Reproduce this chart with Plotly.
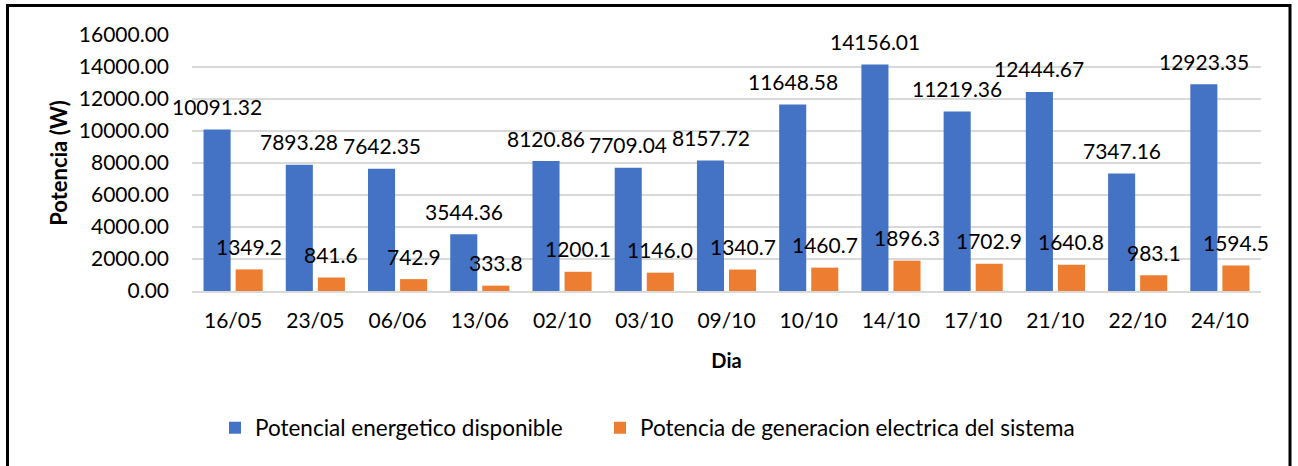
import plotly.graph_objects as go

dias = ["16/05", "23/05", "06/06", "13/06", "02/10", "03/10", "09/10", "10/10",
        "14/10", "17/10", "21/10", "22/10", "24/10"]
potencial = [10091.32, 7893.28, 7642.35, 3544.36, 8120.86, 7709.04, 8157.72,
             11648.58, 14156.01, 11219.36, 12444.67, 7347.16, 12923.35]
generacion = [1349.2, 841.6, 742.9, 333.8, 1200.1, 1146.0, 1340.7,
              1460.7, 1896.3, 1702.9, 1640.8, 983.1, 1594.5]
y_ticks = [0, 2000, 4000, 6000, 8000, 10000, 12000, 14000, 16000]

FONT = "Lato"
W, H = 1298, 466
L, R, T, B = 192, 37, 35, 175

fig = go.Figure()
fig.add_trace(go.Bar(x=dias, y=potencial, name="Potencial energetico disponible",
                     marker=dict(color="#4472C4", line=dict(width=0)), legend="legend"))
fig.add_trace(go.Bar(x=dias, y=generacion, name="Potencia de generacion electrica del sistema",
                     marker=dict(color="#ED7D31", line=dict(width=0)), legend="legend2"))

# data labels
for vals, fmt, off in [(potencial, "{:.2f}", -16), (generacion, "{:.1f}", 16)]:
    for d, v in zip(dias, vals):
        fig.add_annotation(x=d, y=v, text=fmt.format(v), showarrow=False,
                           xshift=off, yshift=23, yanchor="middle",
                           font=dict(family=FONT, size=21, color="#000000"))

pw = W - L - R
ph = H - T - B
fig.add_shape(type="rect", xref="paper", yref="paper",
              x0=(7.5 - L) / pw, x1=(1290 - L) / pw,
              y0=(H - B - 470) / ph, y1=(H - B - 5.5) / ph,
              line=dict(color="black", width=3), fillcolor="rgba(0,0,0,0)", layer="above")

leg_common = dict(orientation="h", xref="container", yref="container",
                  y=1 - 428 / H, xanchor="left", yanchor="middle",
                  font=dict(family=FONT, size=22.5, color="#000000"),
                  itemwidth=30, tracegroupgap=0)
fig.update_layout(
    width=W, height=H,
    margin=dict(l=L, r=R, t=T, b=B, autoexpand=False),
    paper_bgcolor="white", plot_bgcolor="white",
    barmode="group", bargap=0.22, bargroupgap=0.156,
    font=dict(family=FONT, size=21, color="#000000"),
    showlegend=True,
    legend=dict(x=215 / W, **leg_common),
    legend2=dict(x=600 / W, **leg_common),
)
fig.update_xaxes(
    range=[-0.5, len(dias) - 0.5],
    title=dict(text="<b>Dia</b>", font=dict(family=FONT, size=20, color="#000000"), standoff=23),
    tickfont=dict(family=FONT, size=21, color="#000000"),
    ticklabelstandoff=10, automargin=False,
    showgrid=False, showline=True, linecolor="#D9D9D9", linewidth=1.5,
)
fig.update_yaxes(
    title=dict(text="<b>Potencia (W)</b>", font=dict(family=FONT, size=22, color="#000000"), standoff=5),
    range=[0, 16000], tickvals=y_ticks, tickformat=".2f",
    tickfont=dict(family=FONT, size=21, color="#000000"),
    ticklabelstandoff=22, automargin=False,
    showgrid=True, gridcolor="#D9D9D9", gridwidth=1.5, zeroline=False,
)
fig.write_html("out.html", config={"displayModeBar": False},
               post_script="document.body.style.margin='0';document.body.style.overflow='hidden';")
